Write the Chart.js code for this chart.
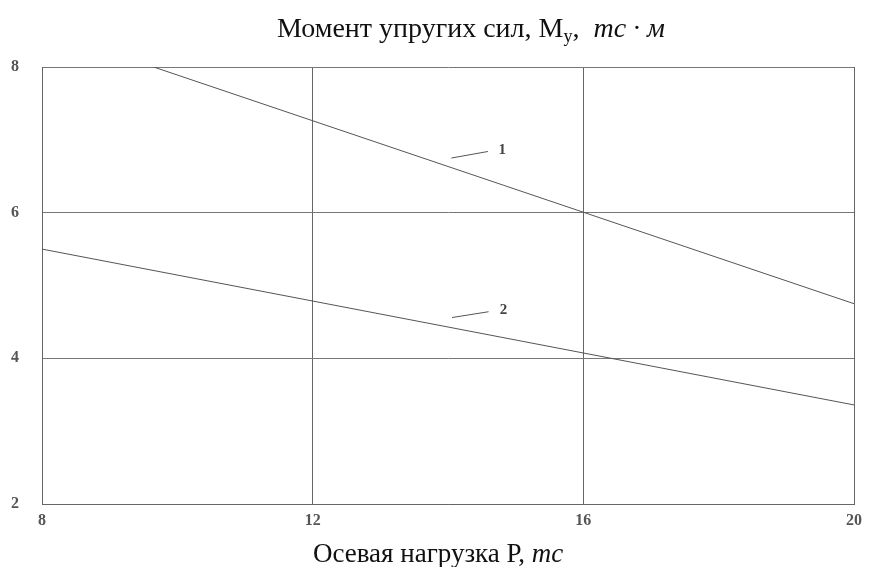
<!DOCTYPE html>
<html>
<head>
<meta charset="utf-8">
<title>Момент упругих сил</title>
<script src="https://cdn.jsdelivr.net/npm/chart.js@4/dist/chart.umd.min.js"></script>
<style>
    html, body { margin: 0; padding: 0; background: #fff; }
    #chart { display: block; }
</style>
</head>
<body>
<canvas id="chart" width="869" height="567"></canvas>
<script>
// ========== DATA ========== //
const xTicks = [8, 12, 16, 20];          // осевая нагрузка P, тс
const yTicks = [2, 4, 6, 8];             // момент, тс·м

const load1 = [9.65, 20];
const moment1 = [8, 4.75];
const load2 = [8, 20];
const moment2 = [5.5, 3.36];

// curve numbers with short leader strokes (in data units)
const curveNames = ['1', '2'];
const nameX = [14.8, 14.82];
const nameY = [6.86, 4.66];
const leaderX = [[14.05, 14.59], [14.06, 14.6]];
const leaderY = [[6.75, 6.84], [4.56, 4.64]];

const serif = '"Liberation Serif", "Times New Roman", serif';

function pts(xs, ys) {
    return xs.map((x, i) => ({ x: x, y: ys[i] }));
}

// draw a line of text made of differently styled pieces
function richText(ctx, parts, cx, baseline) {
    let total = 0;
    parts.forEach(p => { ctx.font = p.font; p.w = ctx.measureText(p.text).width; total += p.w; });
    let x = cx - total / 2;
    ctx.textAlign = 'left';
    ctx.textBaseline = 'alphabetic';
    parts.forEach(p => {
        ctx.font = p.font;
        ctx.fillText(p.text, x, baseline + (p.dy || 0));
        x += p.w;
    });
}

const textPlugin = {
    id: 'texts',
    afterDraw(chart) {
        const ctx = chart.ctx;
        const xs = chart.scales.x, ys = chart.scales.y;
        ctx.save();
        ctx.fillStyle = '#111';
        richText(ctx, [
            { text: 'Момент упругих сил, М', font: '28px ' + serif },
            { text: 'у', font: '18px ' + serif, dy: 5 },
            { text: ',  ', font: '28px ' + serif },
            { text: 'тс · м', font: 'italic 28px ' + serif }
        ], 471, 37);
        richText(ctx, [
            { text: 'Осевая нагрузка Р, ', font: '27px ' + serif },
            { text: 'тс', font: 'italic 27px ' + serif }
        ], 438, 562);

        // curve numbers
        ctx.fillStyle = '#444';
        ctx.font = 'bold 15px ' + serif;
        ctx.textAlign = 'center';
        ctx.textBaseline = 'middle';
        curveNames.forEach((n, i) => {
            ctx.fillText(n, xs.getPixelForValue(nameX[i]), ys.getPixelForValue(nameY[i]));
        });
        ctx.restore();
    }
};

const leaderSets = curveNames.map((n, i) => ({
    label: 'leader ' + n,
    data: pts(leaderX[i], leaderY[i]),
    borderColor: '#555',
    borderWidth: 1,
    pointRadius: 0
}));

new Chart(document.getElementById('chart'), {
    type: 'line',
    data: {
        datasets: [
            { label: '1', data: pts(load1, moment1), borderColor: '#555', borderWidth: 1, pointRadius: 0 },
            { label: '2', data: pts(load2, moment2), borderColor: '#555', borderWidth: 1, pointRadius: 0 },
            ...leaderSets
        ]
    },
    options: {
        responsive: false,
        animation: false,
        events: [],
        layout: { padding: { top: 67, right: 14, left: 0, bottom: 0 } },
        plugins: {
            legend: { display: false },
            tooltip: { enabled: false }
        },
        scales: {
            x: {
                type: 'linear',
                min: xTicks[0],
                max: xTicks[xTicks.length - 1],
                afterBuildTicks: s => { s.ticks = xTicks.map(v => ({ value: v })); },
                afterFit: s => { s.height = 63; },
                grid: { color: '#666', lineWidth: 1, drawTicks: false },
                border: { color: '#666' },
                ticks: {
                    padding: 7,
                    color: '#555',
                    font: { family: serif, size: 16, weight: 'bold' },
                    maxRotation: 0
                }
            },
            y: {
                type: 'linear',
                min: yTicks[0],
                max: yTicks[yTicks.length - 1],
                afterBuildTicks: s => { s.ticks = yTicks.map(v => ({ value: v })); },
                afterFit: s => { s.width = 42; },
                grid: { color: '#777', lineWidth: 1, drawTicks: false },
                border: { color: '#666' },
                ticks: {
                    padding: 23,
                    color: '#555',
                    font: { family: serif, size: 16, weight: 'bold' }
                }
            }
        }
    },
    plugins: [textPlugin]
});
</script>
</body>
</html>
